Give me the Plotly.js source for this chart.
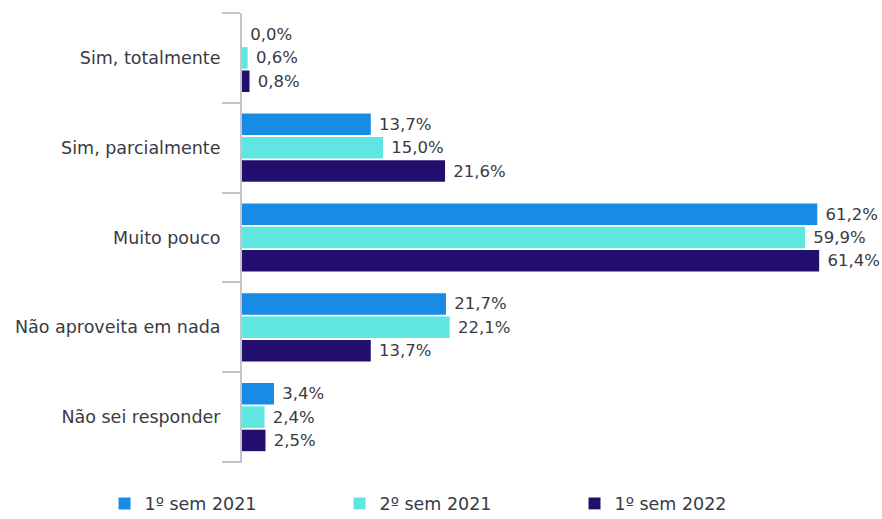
<!DOCTYPE html>
<html>
<head>
<meta charset="utf-8">
<script src="https://cdn.plot.ly/plotly-3.0.1.min.js"></script>
<style>
  body { margin: 0; background: #fff; }
  #chart { width: 882px; height: 519px; }
</style>
</head>
<body>
<div id="chart"></div>
<script>
// categories, top to bottom
const categories = ['Sim, totalmente', 'Sim, parcialmente', 'Muito pouco', 'Não aproveita em nada', 'Não sei responder'];

const sem1_2021 = [0.0, 13.7, 61.2, 21.7, 3.4];
const sem2_2021 = [0.6, 15.0, 59.9, 22.1, 2.4];
const sem1_2022 = [0.8, 21.6, 61.4, 13.7, 2.5];

const seriesNames = ['1º sem 2021', '2º sem 2021', '1º sem 2022'];
const seriesColors = ['#188ce5', '#60e6e1', '#23106e'];

function pctLabels(vals) {
    return vals.map(v => '\u00a0' + v.toFixed(1).replace('.', ',') + '%');
}

const traces = [sem1_2021, sem2_2021, sem1_2022].map((vals, i) => ({
    type: 'bar',
    orientation: 'h',
    name: seriesNames[i],
    y: categories,
    x: vals,
    text: pctLabels(vals),
    textposition: 'outside',
    constraintext: 'none',
    cliponaxis: false,
    textfont: { size: 16.5, color: '#3a3a44', family: 'DejaVu Sans, sans-serif' },
    marker: { color: seriesColors[i] },
    hoverinfo: 'x+name'
}));

const layout = {
    width: 882,
    height: 519,
    margin: { l: 242, r: 29, t: 13, b: 56, autoexpand: false },
    barmode: 'group',
    bargap: 0.22,
    bargroupgap: 0.08,
    font: { family: 'DejaVu Sans, sans-serif', color: '#3a3a44' },
    plot_bgcolor: '#fff',
    paper_bgcolor: '#fff',
    xaxis: {
        range: [0, 65],
        showticklabels: false,
        showgrid: false,
        zeroline: false,
        showline: false,
        ticks: ''
    },
    yaxis: {
        autorange: 'reversed',
        type: 'category',
        automargin: false,
        showline: true,
        linecolor: '#c4c4cd',
        linewidth: 2,
        ticks: 'outside',
        tickson: 'boundaries',
        ticklen: 18,
        tickwidth: 2,
        tickcolor: '#c4c4cd',
        showgrid: false,
        ticklabelstandoff: 16,
        tickfont: { size: 17.5, color: '#3a3a44' }
    },
    // closing tick at the bottom boundary of the category axis
    shapes: [{
        type: 'line',
        xref: 'paper', yref: 'y',
        x0: -20 / 611, x1: 0,
        y0: 4.5, y1: 4.5,
        line: { color: '#c4c4cd', width: 2 }
    }],
    showlegend: true,
    legend: {
        orientation: 'h',
        x: -0.225,
        xanchor: 'left',
        y: -0.05,
        yanchor: 'top',
        entrywidth: 190,
        font: { size: 17.5, color: '#3a3a44' },
        traceorder: 'normal'
    }
};

Plotly.newPlot('chart', traces, layout, { displayModeBar: false });
</script>
</body>
</html>
